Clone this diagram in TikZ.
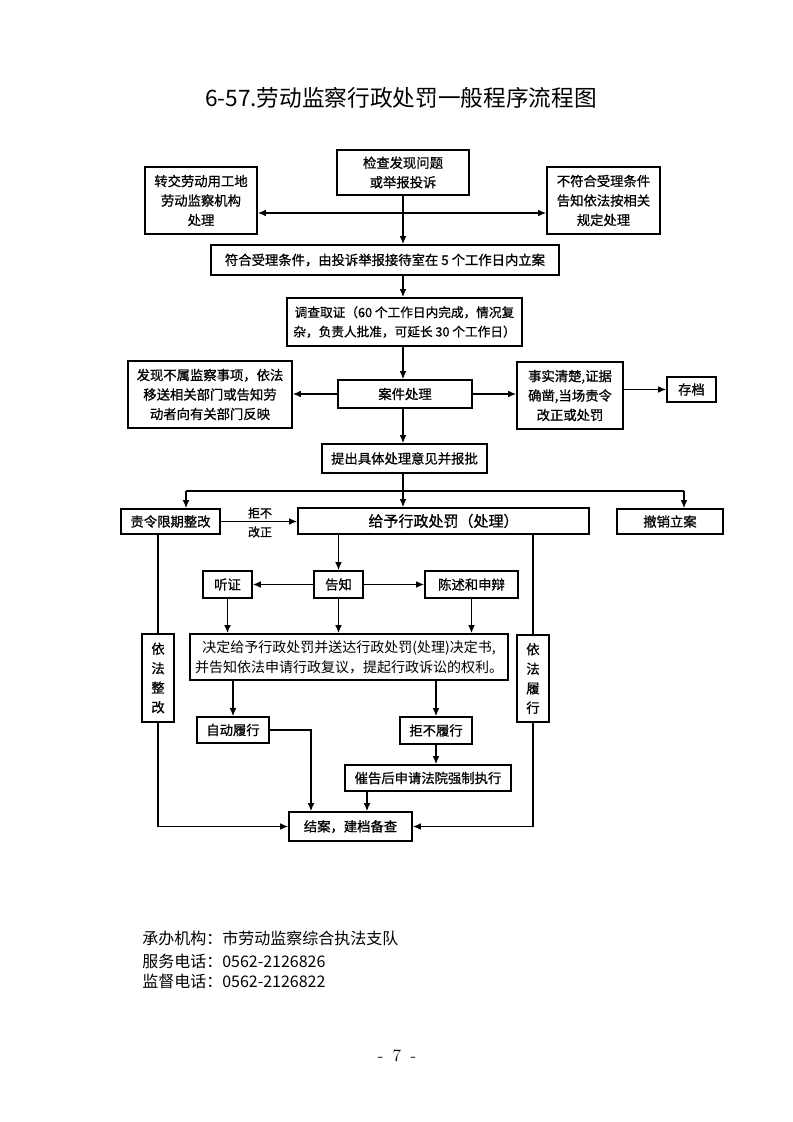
\documentclass[tikz,border=0pt]{standalone}
\usepackage{fontspec}
\newfontfamily\cjk{Noto Sans CJK SC}
\newfontfamily\cjkb{Noto Sans CJK SC}[FakeBold=0.8]
\usetikzlibrary{arrows.meta}
\begin{document}
\begin{tikzpicture}[x=0.75pt,y=-0.75pt,
  box/.style={draw, line width=1.2pt, inner sep=0pt, align=center, font=\cjkb\fontsize{10}{14.6}\selectfont},
  conn/.style={line width=1pt},
  arr/.style={conn, -{Latex[length=6pt,width=5pt]}},
  biarr/.style={conn, {Latex[length=6pt,width=5pt]}-{Latex[length=6pt,width=5pt]}},
  lbl/.style={font=\cjkb\fontsize{9}{11}\selectfont, inner sep=0pt},
  foot/.style={font=\cjk\fontsize{12}{14}\selectfont, inner sep=0pt, anchor=west},
]
\fill[white] (0,0) rectangle (793,1122);
\useasboundingbox (0,0) rectangle (793,1122);

\node[font=\cjk\fontsize{17}{20}\selectfont] (title) at (401,98) {6-57.劳动监察行政处罚一般程序流程图};

\node[box, minimum width=99pt, minimum height=33.75pt] (top) at (403,172.5) {检查发现问题\\或举报投诉};
\node[box, minimum width=84pt, minimum height=50.25pt] (zhuanjiao) at (201,200.5) {转交劳动用工地\\劳动监察机构\\处理};
\node[box, minimum width=84.75pt, minimum height=50.25pt] (bufuhe) at (603.5,200.5) {不符合受理条件\\告知依法按相关\\规定处理};
\node[box, minimum width=261pt, minimum height=22.5pt] (fuhe) at (385,260) {符合受理条件，由投诉举报接待室在 5 个工作日内立案};
\node[box, minimum width=176.25pt, minimum height=36pt, font=\cjkb\fontsize{9.5}{14.5}\selectfont] (diaocha) at (404.5,322) {调查取证（60 个工作日内完成，情况复\\杂，负责人批准，可延长 30 个工作日）};
\node[box, minimum width=100.5pt, minimum height=21pt] (anjian) at (405,394) {案件处理};
\node[box, minimum width=123pt, minimum height=50.25pt] (faxian) at (210,394.5) {发现不属监察事项，依法\\移送相关部门或告知劳\\动者向有关部门反映};
\node[box, minimum width=79.5pt, minimum height=50.25pt] (shishi) at (570,395.5) {事实清楚,证据\\确凿,当场责令\\改正或处罚};
\node[box, minimum width=36.75pt, minimum height=18.75pt] (cundang) at (691.5,389.5) {存档};
\node[box, minimum width=123.75pt, minimum height=21.75pt] (tichu) at (404.5,458.5) {提出具体处理意见并报批};
\node[box, minimum width=74.25pt, minimum height=18.75pt] (zeling) at (170.5,521.5) {责令限期整改};
\node[box, minimum width=218.25pt, minimum height=19.5pt, font=\cjkb\fontsize{11.25}{14}\selectfont] (geiyu) at (443.5,521) {给予行政处罚（处理）};
\node[box, minimum width=79.5pt, minimum height=18.75pt] (chexiao) at (670,521.5) {撤销立案};
\node[box, minimum width=36.75pt, minimum height=20.25pt] (tingzheng) at (227.5,584.5) {听证};
\node[box, minimum width=36.75pt, minimum height=20.25pt] (gaozhi) at (338.5,584.5) {告知};
\node[box, minimum width=69.75pt, minimum height=20.25pt] (chenshu) at (471.5,584.5) {陈述和申辩};
\node[box, minimum width=238.5pt, minimum height=34.5pt, font=\cjk\fontsize{10.5}{15}\selectfont] (jueding) at (349,657) {决定给予行政处罚并送达行政处罚(处理)决定书,\\并告知依法申请行政复议，提起行政诉讼的权利。};
\node[box, minimum width=24pt, minimum height=66pt] (zhenggai) at (158,678) {依\\法\\整\\改};
\node[box, minimum width=24pt, minimum height=65.25pt] (lvxing) at (533,678.5) {依\\法\\履\\行};
\node[box, minimum width=54pt, minimum height=19.5pt] (zidong) at (233,730) {自动履行};
\node[box, minimum width=54pt, minimum height=20.25pt] (jubu) at (436,730.5) {拒不履行};
\node[box, minimum width=124.5pt, minimum height=19.5pt] (cuigao) at (428,778) {催告后申请法院强制执行};
\node[box, minimum width=92.25pt, minimum height=21.75pt] (jiean) at (350.5,826.5) {结案，建档备查};

\node[lbl] (jubu1) at (260,513) {拒不};
\node[lbl] (gaizheng) at (260,532) {改正};

% connectors
\coordinate (C) at (403,0);
\draw[arr] (top.south) -- (top.south |- fuhe.north);
\path (zhuanjiao.east) ++(0,12.5) coordinate (hL);
\draw[biarr] (hL) -- (hL -| bufuhe.west);
\draw[arr] (C |- fuhe.south) -- (C |- diaocha.north);
\draw[arr] (C |- diaocha.south) -- (C |- anjian.north);
\draw[arr] (anjian.west) -- (anjian.west -| faxian.east);
\draw[arr] (anjian.east) -- (anjian.east -| shishi.west);
\draw[arr] (cundang.west -| shishi.east) -- (cundang.west);
\draw[arr] (C |- anjian.south) -- (C |- tichu.north);
\coordinate (bL) at (186,491);
\coordinate (bR) at (684,491);
\draw[conn] (bL) -- (bR);
\draw[arr] (bL) -- (bL |- zeling.north);
\draw[arr] (bR) -- (bR |- chexiao.north);
\draw[arr] (C |- tichu.south) -- (C |- geiyu.north);
\draw[arr] (zeling.east) -- (zeling.east -| geiyu.west);
\draw[arr] (gaozhi.north |- geiyu.south) -- (gaozhi.north);
\draw[arr] (gaozhi.west) -- (tingzheng.east);
\draw[arr] (gaozhi.east) -- (chenshu.west);
\draw[arr] (tingzheng.south) -- (tingzheng.south |- jueding.north);
\draw[arr] (gaozhi.south) -- (gaozhi.south |- jueding.north);
\draw[arr] (chenshu.south) -- (chenshu.south |- jueding.north);
\draw[conn] (zhenggai.north |- zeling.south) -- (zhenggai.north);
\draw[arr] (zhenggai.south) |- (jiean.west);
\draw[conn] (lvxing.north |- geiyu.south) -- (lvxing.north);
\draw[arr] (lvxing.south) |- (jiean.east);
\draw[arr] (zidong.north |- jueding.south) -- (zidong.north);
\draw[arr] (jubu.north |- jueding.south) -- (jubu.north);
\draw[arr] (jubu.south) -- (jubu.south |- cuigao.north);
\coordinate (zr) at (311,0);
\draw[arr] (zidong.east) -| (zr |- jiean.north);
\coordinate (cr) at (367,0);
\draw[arr] (cr |- cuigao.south) -- (cr |- jiean.north);

% footer
\node[foot] (f1) at (142,938) {承办机构：市劳动监察综合执法支队};
\node[foot] (f2) at (142,961) {服务电话：0562-2126826};
\node[foot] (f3) at (142,981) {监督电话：0562-2126822};
\node[font=\fontsize{13}{15}\selectfont] (page) at (397,1056) {-\hspace{7pt}7\hspace{7pt}-};
\end{tikzpicture}
\end{document}
